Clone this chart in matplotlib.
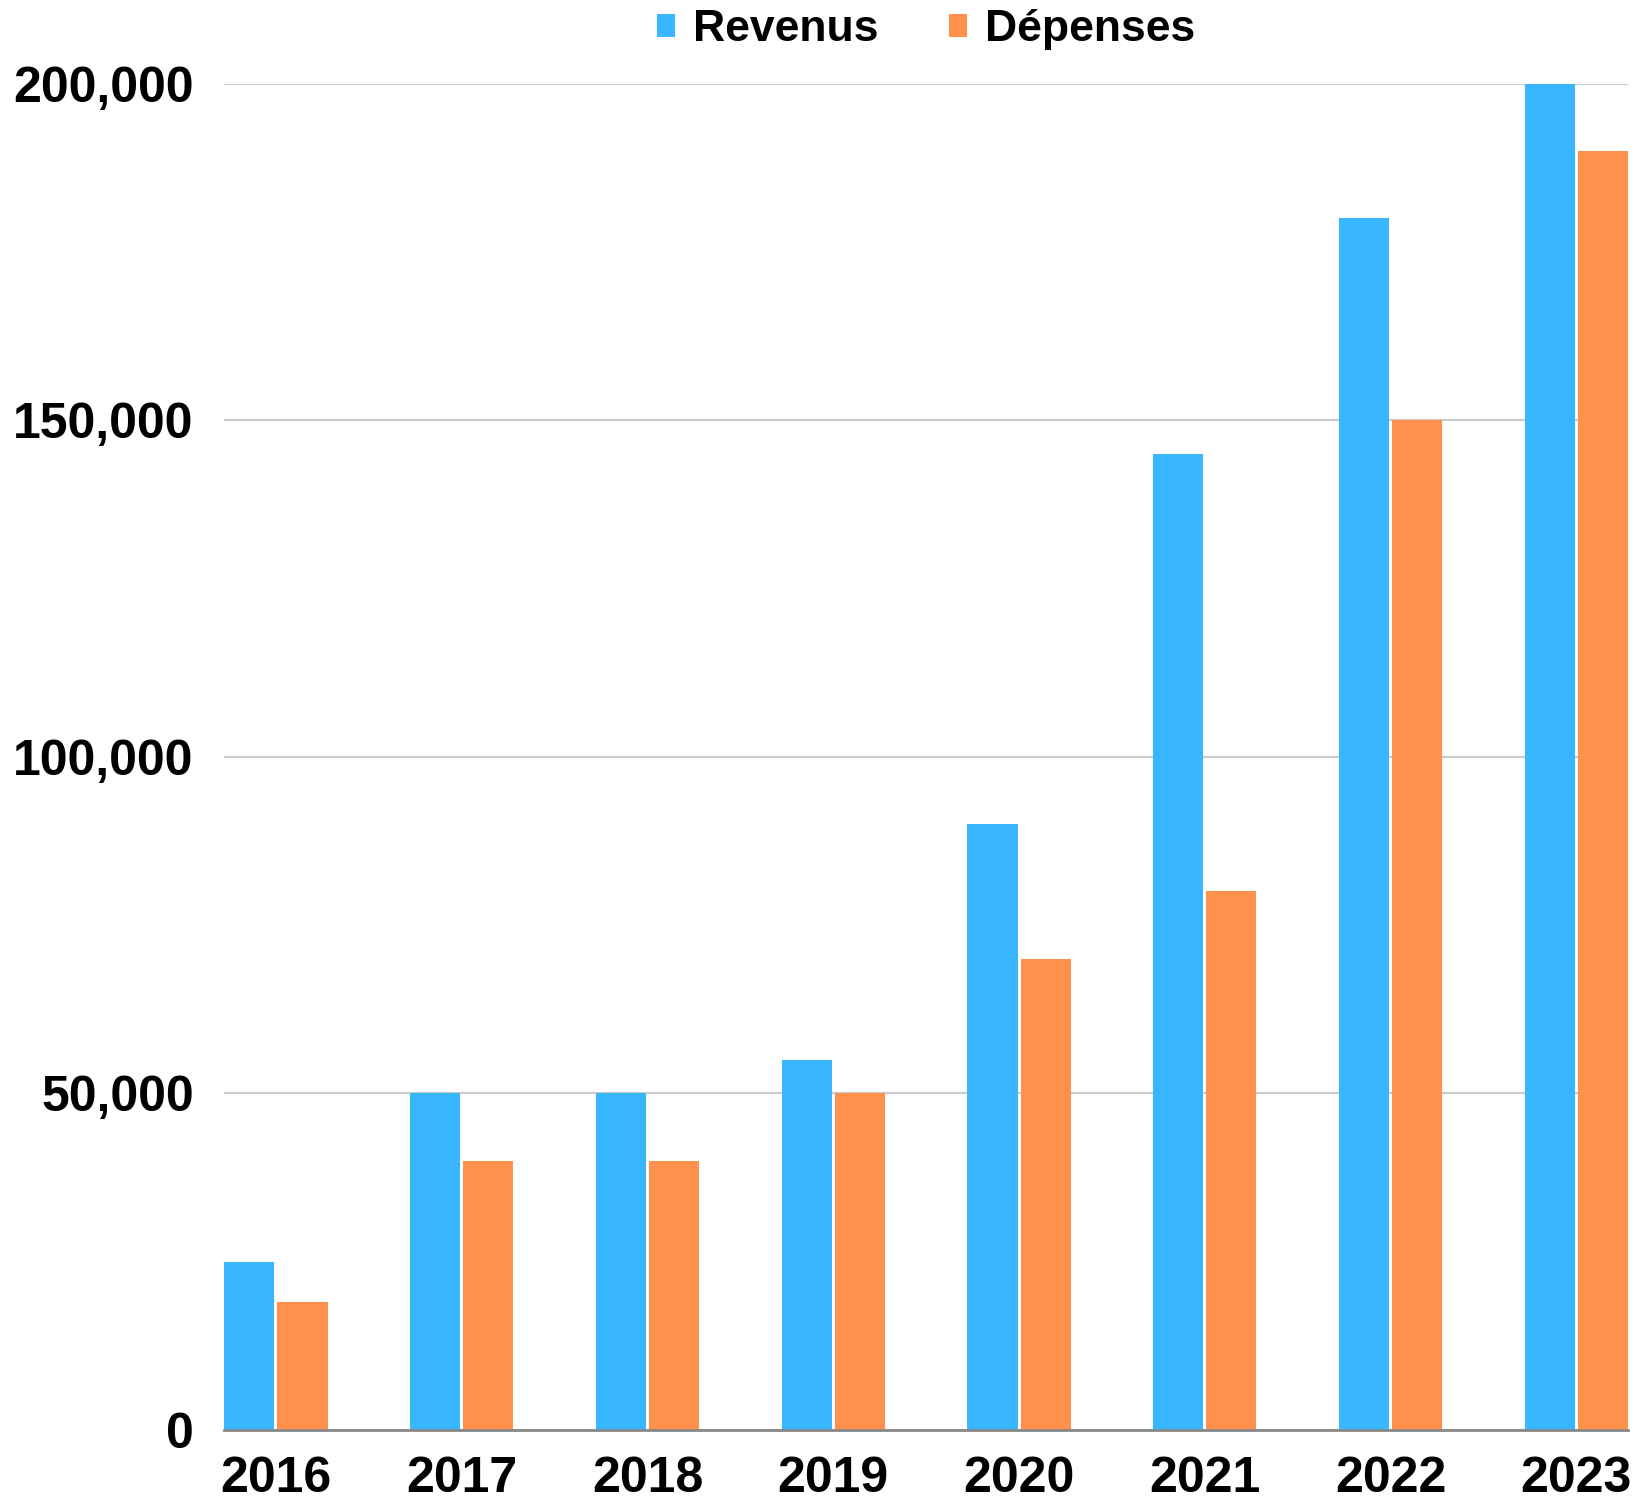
import numpy as np
import matplotlib
matplotlib.use('Agg')
import matplotlib.pyplot as plt
from matplotlib.ticker import FuncFormatter

# données
annees = ['2016', '2017', '2018', '2019', '2020', '2021', '2022', '2023']
revenus = [25000, 50000, 50000, 55000, 90000, 145000, 180000, 200000]
depenses = [19000, 40000, 40000, 50000, 70000, 80000, 150000, 190000]

BLEU = '#38B6FF'
ORANGE = '#FF914D'

plt.rcParams['font.family'] = ['Liberation Sans', 'DejaVu Sans']
plt.rcParams['font.weight'] = 'bold'

fig = plt.figure(figsize=(16.37, 15), dpi=100)
ax = fig.add_axes([0.137, 0.0467, 0.8575, 0.8976])

x = np.arange(len(annees))
w = 0.27
ax.bar(x - 0.143, revenus, w, color=BLEU, label='Revenus', zorder=3)
ax.bar(x + 0.143, depenses, w, color=ORANGE, label='Dépenses', zorder=3)

ax.set_xlim(-0.278, len(annees) - 1 + 0.278)
ax.set_ylim(0, 200000)
ax.set_yticks([0, 50000, 100000, 150000, 200000])
ax.yaxis.set_major_formatter(FuncFormatter(lambda v, p: f'{int(v):,}'))
ax.set_xticks(x)
ax.set_xticklabels(annees)

ax.grid(axis='y', color='#cccccc', linewidth=1.5, zorder=0)
for s in ['top', 'right', 'left']:
    ax.spines[s].set_visible(False)
ax.spines['bottom'].set_color('#888888')
ax.spines['bottom'].set_linewidth(2)
ax.spines['bottom'].set_zorder(4)
ax.tick_params(axis='both', length=0, labelsize=36)
ax.tick_params(axis='y', pad=22)
ax.tick_params(axis='x', pad=19)
for lbl in ax.get_xticklabels() + ax.get_yticklabels():
    lbl.set_fontweight('bold')

ax.legend(loc='center', bbox_to_anchor=(0.5, 1.04), ncol=2, frameon=False,
          prop={'size': 32, 'weight': 'bold'}, handlelength=0.4, handleheight=0.4,
          handletextpad=0.4, columnspacing=1.6)

fig.savefig('out.png', dpi=100)
